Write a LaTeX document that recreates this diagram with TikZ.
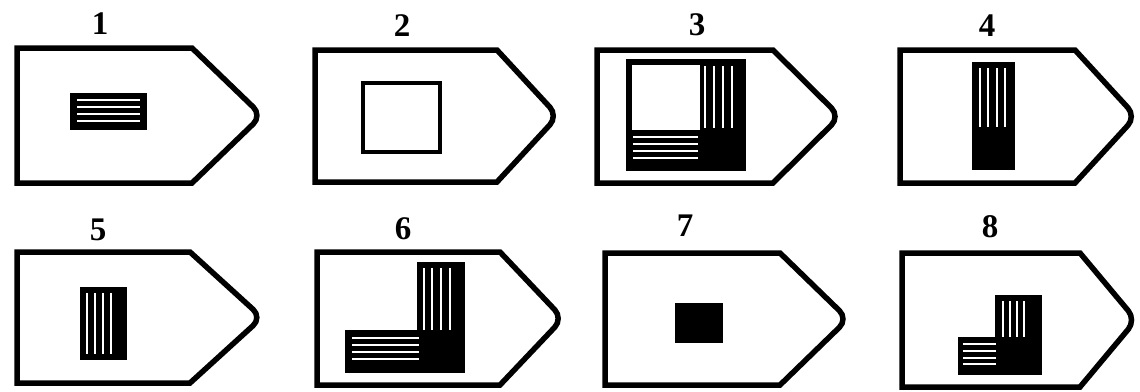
\documentclass[tikz,border=0pt]{standalone}
\usepackage{fontspec}
\setmainfont{Liberation Serif}
\begin{document}
\begin{tikzpicture}[x=1pt,y=-1pt,
  hull/.style={draw=black,line width=5.5pt,fill=white,line join=miter},
  lbl/.style={font=\fontsize{33}{33}\selectfont\bfseries,inner sep=0pt,anchor=center},
  blk/.style={fill=black},
  wl/.style={draw=white,line width=2.2pt}]
\useasboundingbox (0,0) rectangle (1140,391);
\fill[white] (0,0) rectangle (1140,391);
% hull macro: left, top, bottom, straight end, tip
\def\hull#1#2#3#4#5{\draw[hull] (#1,#2) -- (#4,#2) [rounded corners=12pt] -- (#5,{(#2+#3)/2}) [sharp corners] -- (#4,#3) -- (#1,#3) -- cycle;}
% panel 1
\hull{17}{48}{183}{192}{262}
\node[lbl] (l1) at (100,24) {1};
\fill[blk] (70,93) rectangle (147,130);
\foreach \y in {100,107,114,121} \draw[wl] (77,\y) -- (140,\y);
% panel 2
\hull{315}{50}{182}{497}{558}
\node[lbl] (l2) at (402,26) {2};
\draw[line width=4.5pt] (363,83) rectangle (440,152);
% panel 3
\hull{597}{50}{183}{773}{840}
\node[lbl] (l3) at (697,25) {3};
\draw[line width=5.5pt] (629,62) rectangle (743,168);
\fill[blk] (700,60) rectangle (745,170);
\fill[blk] (627,130) rectangle (745,170);
\foreach \x in {705,714,723,732} \draw[wl] (\x,66) -- (\x,128);
\foreach \y in {137,144,151,158} \draw[wl] (633,\y) -- (698,\y);
% panel 4
\hull{900}{50}{183}{1075}{1136}
\node[lbl] (l4) at (987,26) {4};
\fill[blk] (972,62) rectangle (1015,170);
\foreach \x in {980,988,997,1005} \draw[wl] (\x,68) -- (\x,127);
% panel 5
\hull{17}{252}{383}{190}{262}
\node[lbl] (l5) at (98,230) {5};
\fill[blk] (80,287) rectangle (127,360);
\foreach \x in {87,95,103,111} \draw[wl] (\x,293) -- (\x,354);
% panel 6
\hull{317}{252}{385}{500}{563}
\node[lbl] (l6) at (403,229) {6};
\fill[blk] (417,262) rectangle (465,373);
\fill[blk] (345,330) rectangle (417,373);
\foreach \x in {424,432,441,450} \draw[wl] (\x,268) -- (\x,330);
\foreach \y in {338,345,352,359} \draw[wl] (352,\y) -- (419,\y);
% panel 7
\hull{605}{253}{385}{780}{848}
\node[lbl] (l7) at (685,226) {7};
\fill[blk] (675,303) rectangle (723,343);
% panel 8
\hull{902}{253}{387}{1080}{1136}
\node[lbl] (l8) at (990,227) {8};
\fill[blk] (995,295) rectangle (1042,375);
\fill[blk] (958,337) rectangle (995,375);
\foreach \x in {1003,1010,1017,1024} \draw[wl] (\x,301) -- (\x,337);
\foreach \y in {344,351,358,364} \draw[wl] (963,\y) -- (996,\y);
\end{tikzpicture}
\end{document}
